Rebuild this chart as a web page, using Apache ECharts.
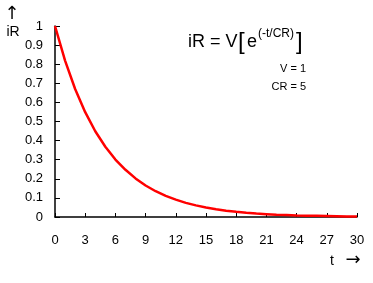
<!DOCTYPE html>
<html>
<head>
<meta charset="utf-8">
<script src="https://cdn.jsdelivr.net/npm/echarts@6/dist/echarts.min.js"></script>
<style>
html,body{margin:0;padding:0;background:#fff;}
#c{width:373px;height:283px;}
</style>
</head>
<body>
<div id="c"></div>
<script>
// time t (x) and current iR (y)
var tValues = [0,1,2,3,4,5,6,7,8,9,10,11,12,13,14,15,16,17,18,19,20,21,22,23,24,25,26,27,28,29,30];
var iRValues = [1,0.819,0.670,0.549,0.449,0.368,0.301,0.247,0.202,0.165,0.135,0.111,0.091,0.074,0.061,0.050,0.041,0.033,0.027,0.022,0.018,0.015,0.012,0.010,0.008,0.007,0.006,0.005,0.004,0.003,0.002];
var xTicks = {min:0, max:30, interval:3};
var yTicks = {min:0, max:1, interval:0.1};

var font = 'Liberation Sans, Arial, sans-serif';
var chart = echarts.init(document.getElementById('c'), null, {renderer:'canvas'});
var pts = tValues.map(function(t,i){ return [t, iRValues[i]]; });

chart.setOption({
  animation:false,
  backgroundColor:'#fff',
  grid:{left:55, right:16, top:26, bottom:66, containLabel:false, outerBoundsMode:'none'},
  xAxis:{
    type:'value', min:xTicks.min, max:xTicks.max, interval:xTicks.interval,
    axisLine:{show:true, onZero:false, lineStyle:{color:'#000', width:1.5}},
    axisTick:{show:true, inside:true, length:4, lineStyle:{color:'#000', width:1}},
    axisLabel:{color:'#000', fontSize:13, fontFamily:font, margin:17},
    splitLine:{show:false}
  },
  yAxis:{
    type:'value', min:yTicks.min, max:yTicks.max, interval:yTicks.interval,
    axisLine:{show:true, onZero:false, lineStyle:{color:'#000', width:1.5}},
    axisTick:{show:true, inside:true, length:5, lineStyle:{color:'#000', width:1}},
    axisLabel:{color:'#000', fontSize:13, fontFamily:font, margin:12},
    splitLine:{show:false}
  },
  series:[{
    type:'line', data:pts, showSymbol:false, symbol:'none', smooth:false,
    lineStyle:{color:'#ff0000', width:2.5}
  }],
  graphic:[
    {type:'text', x:12, y:14, style:{text:'↑', font:'18px DejaVu Sans, sans-serif', fill:'#000', textAlign:'center', textVerticalAlign:'middle'}},
    {type:'text', x:13, y:32, style:{text:'iR', font:'14px '+font, fill:'#000', textAlign:'center', textVerticalAlign:'middle'}},
    {type:'text', x:332, y:261, style:{text:'t', font:'14px '+font, fill:'#000', textAlign:'center', textVerticalAlign:'middle'}},
    {type:'text', x:353, y:260, style:{text:'→', font:'18px DejaVu Sans, sans-serif', fill:'#000', textAlign:'center', textVerticalAlign:'middle'}},
    {type:'text', x:188, y:42, style:{text:'iR = V', font:'18px '+font, fill:'#000', textAlign:'left', textVerticalAlign:'middle'}},
    {type:'text', x:238, y:42, style:{text:'[', font:'24px '+font, fill:'#000', textAlign:'left', textVerticalAlign:'middle'}},
    {type:'text', x:247, y:42, style:{text:'e', font:'18px '+font, fill:'#000', textAlign:'left', textVerticalAlign:'middle'}},
    {type:'text', x:258, y:34, style:{text:'(-t/CR)', font:'12px '+font, fill:'#000', textAlign:'left', textVerticalAlign:'middle'}},
    {type:'text', x:296, y:42, style:{text:']', font:'24px '+font, fill:'#000', textAlign:'left', textVerticalAlign:'middle'}},
    {type:'text', x:306, y:69, style:{text:'V = 1', font:'11px '+font, fill:'#000', textAlign:'right', textVerticalAlign:'middle'}},
    {type:'text', x:306, y:87, style:{text:'CR = 5', font:'11px '+font, fill:'#000', textAlign:'right', textVerticalAlign:'middle'}}
  ]
});
</script>
</body>
</html>
